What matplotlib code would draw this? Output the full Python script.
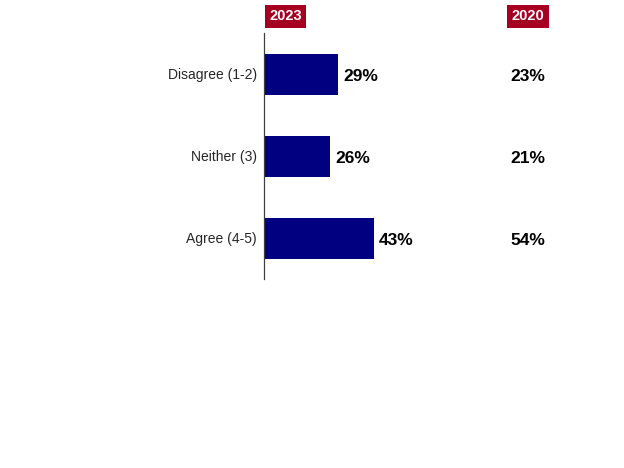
import numpy as np
import matplotlib.pyplot as plt

plt.rcParams['font.family'] = ['Liberation Sans', 'DejaVu Sans']

# datos
categorias = ['Disagree (1-2)', 'Neither (3)', 'Agree (4-5)']
valores_2023 = [29, 26, 43]
valores_2020 = [23, 21, 54]

azul = '#000080'
rojo = '#A50021'

fig = plt.figure(figsize=(6.24, 4.68), dpi=100)
ax = fig.add_axes([264 / 624, 1 - 279 / 468, 255 / 624, 246 / 468])

y = np.arange(len(categorias))
ax.barh(y, valores_2023, height=0.5, color=azul)
ax.set_xlim(0, 100)
ax.set_ylim(2.5, -0.5)
ax.set_yticks(y)
ax.set_yticklabels(categorias, fontsize=10, color='#262626')
ax.tick_params(axis='y', length=0, pad=5)
ax.set_xticks([])
for s in ['top', 'right', 'bottom']:
    ax.spines[s].set_visible(False)
ax.spines['left'].set_color('#404040')
ax.spines['left'].set_linewidth(0.9)

# etiquetas de valores
for yi, v in zip(y, valores_2023):
    ax.text(v + 2, yi + 0.03, f'{v}%', va='center', ha='left',
            fontsize=12.5, fontweight='bold', color='black')
for yi, v in zip(y, valores_2020):
    ax.text(103.5, yi + 0.03, f'{v}%', va='center', ha='center',
            fontsize=12.5, fontweight='bold', color='black', clip_on=False)

# encabezados
fig.text(285.5 / 624, 1 - 16.5 / 468, '2023', ha='center', va='center',
         fontsize=10.5, fontweight='bold', color='white',
         bbox=dict(boxstyle='square,pad=0.32', fc=rojo, ec='none'))
fig.text(528 / 624, 1 - 16.5 / 468, '2020', ha='center', va='center',
         fontsize=10.5, fontweight='bold', color='white',
         bbox=dict(boxstyle='square,pad=0.32', fc=rojo, ec='none'))

fig.savefig('out.png', dpi=100)
